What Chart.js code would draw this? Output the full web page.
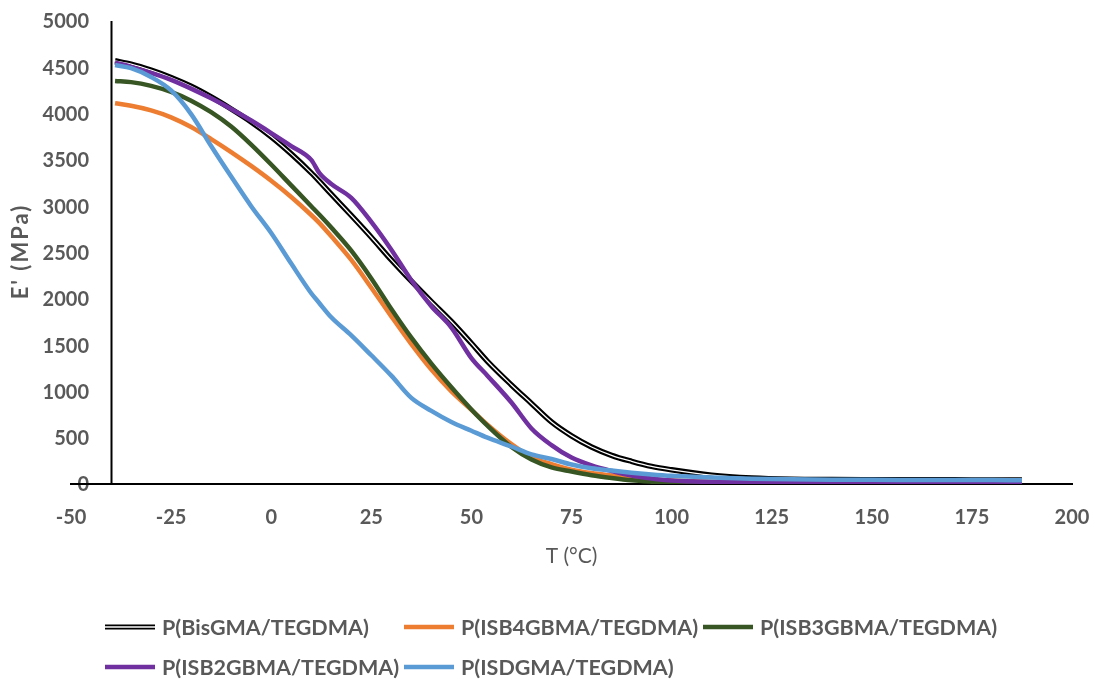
<!DOCTYPE html>
<html>
<head>
<meta charset="utf-8">
<script src="https://cdn.jsdelivr.net/npm/chart.js@4.4.1/dist/chart.umd.min.js"></script>
<style>
  html, body { margin: 0; padding: 0; background: #ffffff; }
  canvas { display: block; }
</style>
</head>
<body>
<canvas id="chart" width="1094" height="681"></canvas>
<script>
// Storage modulus E' (MPa) against temperature T (°C)
const temperatures = [-39, -35, -30, -25, -20, -15, -10, -5, 0, 5, 10, 12, 15, 20, 25, 30, 35, 40, 45, 50,
  54, 60, 65, 70, 75, 80, 85, 90, 95, 100, 110, 120, 130, 140, 150, 160, 170, 180, 187.5];

const eBisGMA = [4570, 4535, 4470, 4390, 4295, 4180, 4050, 3910, 3750, 3565, 3360, 3270, 3130, 2900, 2665, 2420, 2190, 1970, 1755, 1520,
  1325, 1070, 870, 670, 520, 400, 310, 245, 190, 153, 95, 65, 52, 48, 46, 45, 45, 44, 44];
const eISB4GBMA = [4111, 4085, 4035, 3960, 3855, 3725, 3585, 3435, 3275, 3100, 2905, 2820, 2675, 2420, 2120, 1810, 1510, 1235, 1000, 800,
  640, 430, 290, 215, 155, 118, 92, 68, 50, 38, 25, 18, 15, 13, 12, 12, 11, 11, 11];
const eISB3GBMA = [4352, 4340, 4300, 4235, 4140, 4015, 3860, 3665, 3450, 3225, 3000, 2910, 2770, 2520, 2220, 1890, 1580, 1300, 1045, 805,
  630, 400, 265, 180, 135, 95, 65, 40, 25, 14, 8, 6, 5, 5, 4, 4, 4, 4, 4];
const eISB2GBMA = [4550, 4505, 4440, 4365, 4270, 4165, 4050, 3925, 3790, 3650, 3500, 3360, 3240, 3090, 2830, 2530, 2200, 1920, 1690, 1360,
  1170, 880, 600, 420, 285, 200, 140, 92, 60, 38, 22, 17, 15, 14, 14, 13, 13, 12, 12];
const eISDGMA = [4525, 4490, 4395, 4250, 3995, 3650, 3320, 3000, 2710, 2380, 2060, 1955, 1800, 1605, 1390, 1170, 930, 790, 670, 575,
  500, 405, 320, 270, 210, 170, 145, 122, 103, 88, 70, 58, 51, 47, 45, 44, 43, 42, 41];

const seriesNames = ['P(BisGMA/TEGDMA)', 'P(ISB4GBMA/TEGDMA)', 'P(ISB3GBMA/TEGDMA)', 'P(ISB2GBMA/TEGDMA)', 'P(ISDGMA/TEGDMA)'];
const xTickValues = [-50, -25, 0, 25, 50, 75, 100, 125, 150, 175, 200];
const yTickValues = [0, 500, 1000, 1500, 2000, 2500, 3000, 3500, 4000, 4500, 5000];
const yAxisCrossing = -40;
const yAxisTitle = "E' (MPa)";

const TEXT = '#595959';
const FONT = 'Lato, "Open Sans", sans-serif';

const toPoints = values => temperatures.map((t, i) => ({ x: t, y: values[i] }));

const lineStyle = {
  pointRadius: 0,
  pointHoverRadius: 0,
  borderJoinStyle: 'round',
  cubicInterpolationMode: 'monotone',
  fill: false
};

const datasets = [
  { ...lineStyle, label: seriesNames[0], data: toPoints(eBisGMA), borderColor: '#000000', borderWidth: 5.5, order: 5, doubled: true },
  // thin white core gives the BisGMA trace its double-line look
  { ...lineStyle, label: seriesNames[0], data: toPoints(eBisGMA), borderColor: '#ffffff', borderWidth: 1.3, order: 4, core: true },
  { ...lineStyle, label: seriesNames[1], data: toPoints(eISB4GBMA), borderColor: '#ED7D31', borderWidth: 4.5, order: 3 },
  { ...lineStyle, label: seriesNames[2], data: toPoints(eISB3GBMA), borderColor: '#375623', borderWidth: 4.5, order: 2 },
  { ...lineStyle, label: seriesNames[3], data: toPoints(eISB2GBMA), borderColor: '#7030A0', borderWidth: 4.5, order: 1 },
  { ...lineStyle, label: seriesNames[4], data: toPoints(eISDGMA), borderColor: '#5B9BD5', borderWidth: 4.5, order: 0 }
];

// value labels and title of the vertical axis, drawn beneath the axis lines
const verticalAxisText = {
  id: 'verticalAxisText',
  beforeDraw(chart) {
    const { ctx, chartArea, scales } = chart;
    ctx.save();
    ctx.fillStyle = TEXT;
    ctx.font = 'bold 20px ' + FONT;
    ctx.textAlign = 'right';
    ctx.textBaseline = 'middle';
    yTickValues.forEach(v => {
      ctx.fillText(String(v), 89, scales.y.getPixelForValue(v) + 1);
    });
    ctx.translate(21, (chartArea.top + chartArea.bottom) / 2);
    ctx.rotate(-Math.PI / 2);
    ctx.font = 'bold 22px ' + FONT;
    ctx.textAlign = 'center';
    if ('letterSpacing' in ctx) ctx.letterSpacing = '2px';
    ctx.fillText(yAxisTitle, 1, 0);
    ctx.restore();
  }
};

// vertical axis line placed at T = -40 °C
const crossingAxis = {
  id: 'crossingAxis',
  beforeDatasetsDraw(chart) {
    const { ctx, chartArea, scales } = chart;
    const x = Math.round(scales.x.getPixelForValue(yAxisCrossing)) + 0.5;
    ctx.save();
    ctx.strokeStyle = '#000000';
    ctx.lineWidth = 2;
    ctx.beginPath();
    ctx.moveTo(x, chartArea.top);
    ctx.lineTo(x, chartArea.bottom);
    ctx.stroke();
    ctx.restore();
  }
};

// legend laid out on a fixed three-column grid
const gridLegend = {
  id: 'gridLegend',
  afterDraw(chart) {
    const { ctx } = chart;
    const columns = [105, 404, 703];
    const rows = [627, 667];
    const entries = chart.data.datasets.filter(d => !d.core);
    ctx.save();
    entries.forEach((d, i) => {
      const x = columns[i % 3];
      const y = rows[Math.floor(i / 3)];
      ctx.lineCap = 'butt';
      ctx.strokeStyle = d.borderColor;
      ctx.lineWidth = d.doubled ? 5 : 4.5;
      ctx.beginPath();
      ctx.moveTo(x, y);
      ctx.lineTo(x + 50, y);
      ctx.stroke();
      if (d.doubled) {
        ctx.strokeStyle = '#ffffff';
        ctx.lineWidth = 1.3;
        ctx.beginPath();
        ctx.moveTo(x, y);
        ctx.lineTo(x + 50, y);
        ctx.stroke();
      }
      ctx.fillStyle = TEXT;
      ctx.font = 'bold 21.5px ' + FONT;
      ctx.textAlign = 'left';
      ctx.textBaseline = 'middle';
      ctx.fillText(d.label, x + 57, y + 1);
    });
    ctx.restore();
  }
};

new Chart(document.getElementById('chart'), {
  type: 'line',
  data: { datasets },
  plugins: [verticalAxisText, crossingAxis, gridLegend],
  options: {
    responsive: false,
    animation: false,
    events: [],
    layout: { padding: { left: 0, right: 22, top: 21, bottom: 0 } },
    plugins: {
      legend: { display: false },
      tooltip: { enabled: false }
    },
    scales: {
      x: {
        type: 'linear',
        min: -50,
        max: 200,
        afterBuildTicks: s => { s.ticks = xTickValues.map(v => ({ value: v })); },
        afterFit: s => { s.height = 197; s.paddingLeft = 0; s.paddingRight = 0; },
        grid: { display: false, drawTicks: false },
        border: { display: true, color: '#000000', width: 2 },
        ticks: {
          color: TEXT,
          font: { family: FONT, size: 20, weight: 'bold' },
          padding: 22,
          maxRotation: 0,
          autoSkip: false,
          callback: v => String(v)
        },
        title: {
          display: true,
          text: 'T (°C)',
          color: TEXT,
          font: { family: FONT, size: 21, weight: 'normal' },
          padding: { top: 0, bottom: 112 }
        }
      },
      y: {
        type: 'linear',
        min: 0,
        max: 5000,
        afterBuildTicks: s => { s.ticks = yTickValues.map(v => ({ value: v })); },
        afterFit: s => { s.width = 71; s.paddingTop = 0; s.paddingBottom = 0; },
        grid: { display: false, drawTicks: false },
        border: { display: false },
        ticks: { display: false },
        title: { display: false }
      }
    }
  }
});
</script>
</body>
</html>
